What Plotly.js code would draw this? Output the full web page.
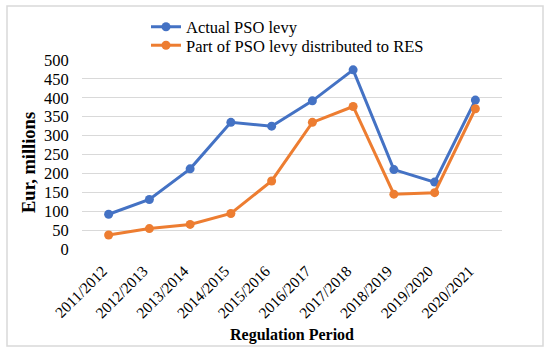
<!DOCTYPE html>
<html><head><meta charset="utf-8">
<script src="https://cdn.plot.ly/plotly-3.0.1.min.js"></script>
<style>html,body{margin:0;padding:0;background:#fff}#c{width:550px;height:354px}</style>
</head><body><div id="c"></div>
<script>
const periods = ["2011/2012","2012/2013","2013/2014","2014/2015","2015/2016","2016/2017","2017/2018","2018/2019","2019/2020","2020/2021"];
const actualPSO = [92,131,212,335,325,392,474,210,177,394];
const partRES = [37,54,65,94,180,335,377,145,149,371];
const yTicks = [0,50,100,150,200,250,300,350,400,450,500];
const xTitle = "Regulation Period";
const yTitle = "Eur, millions";

const FAM = "Liberation Serif";
const f = (s) => ({family:FAM, size:s, color:"#000"});
const traces = [
 {x:periods, y:actualPSO, name:"Actual PSO levy", type:"scatter", mode:"lines+markers", legend:"legend",
  line:{color:"#4472C4", width:3}, marker:{color:"#4472C4", size:9}},
 {x:periods, y:partRES, name:"Part of PSO levy distributed to RES", type:"scatter", mode:"lines+markers", legend:"legend2",
  line:{color:"#ED7D31", width:3}, marker:{color:"#ED7D31", size:9}}
];
const leg = (top) => ({x:146/550, xref:"container", xanchor:"left", y:1-top/354, yref:"container", yanchor:"top",
   orientation:"v", font:f(16.5), bgcolor:"rgba(0,0,0,0)", itemwidth:30});
const layout = {
 width:550, height:354,
 margin:{l:82, r:48, t:60, b:105, autoexpand:false},
 paper_bgcolor:"#fff", plot_bgcolor:"#fff",
 font:f(15),
 showlegend:true,
 legend:leg(9.5),
 legend2:leg(28),
 xaxis:{type:"category", tickangle:-45, showgrid:false, showline:false, zeroline:false,
   ticks:"outside", ticklen:6, tickcolor:"rgba(0,0,0,0)", tickfont:f(15.5), ticklabelshift:-6,
   title:{text:"<b>"+xTitle+"</b>", font:f(16), standoff:8}},
 yaxis:{range:[0,500], tickvals:yTicks, showgrid:true, gridcolor:"#d9d9d9", gridwidth:1,
   zeroline:false, showline:false, ticks:"outside", ticklen:9, tickcolor:"rgba(0,0,0,0)", tickfont:f(16.5)},
 annotations:[{text:"<b>"+yTitle+"</b>", textangle:-90, xref:"paper", yref:"paper",
   x:(29-82)/420, y:(249-163)/189, xanchor:"center", yanchor:"middle", showarrow:false, font:f(18.5)}],
 shapes:[{type:"rect", xref:"paper", yref:"paper", x0:-75/420, x1:461/420, y0:-97/189, y1:1+54/189,
   line:{color:"#d9d9d9", width:1.5}, fillcolor:"rgba(0,0,0,0)"}]
};
Plotly.newPlot("c", traces, layout, {displayModeBar:false, staticPlot:true});
</script></body></html>
